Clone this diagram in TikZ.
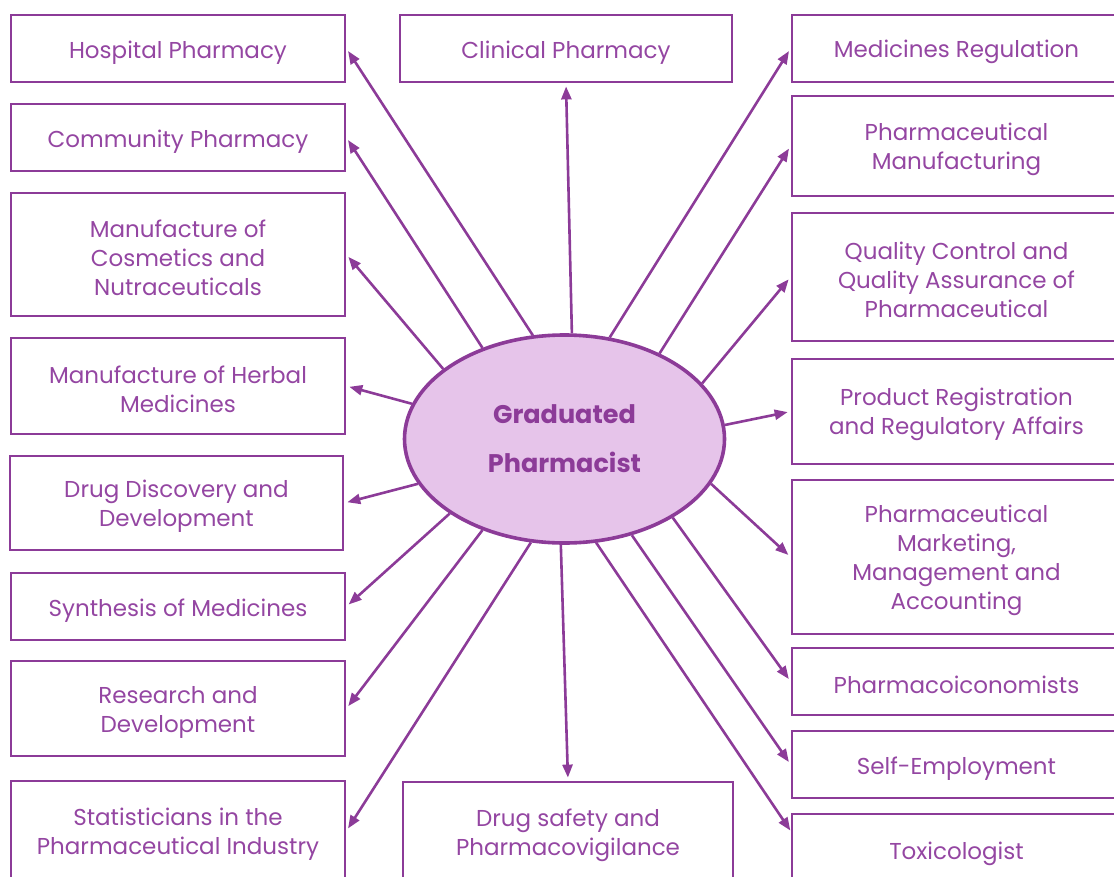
\documentclass[tikz,border=0pt]{standalone}
\usepackage{fontspec}
\setmainfont{Poppins}
\usetikzlibrary{arrows.meta,shapes.geometric}
\definecolor{pp}{HTML}{8C3B98}
\definecolor{pptext}{HTML}{9446A2}
\definecolor{ppfill}{HTML}{E6C4EA}
\newcommand\firstup{\rule{0pt}{24pt}}
\begin{document}
\begin{tikzpicture}[x=1pt,y=-1pt,
  box/.style={draw=pp, line width=2.8pt, text=pptext, align=center, inner sep=0pt,
    font=\fontsize{23}{29}\selectfont, execute at begin node={\rule{0pt}{25pt}}},
  lbox/.style={box, minimum width=334pt},
  rbox/.style={box, minimum width=329pt},
  arr/.style={draw=pp, line width=2.6pt, -{Triangle[length=13pt,width=10pt]}, shorten >=3pt}]
\useasboundingbox (0,0) rectangle (1114,876);
\clip (0,0) rectangle (1114,876);
% left column
\node[lbox, minimum height=67pt] (hosp) at (178,48.5) {Hospital Pharmacy};
\node[lbox, minimum height=67pt] (comm) at (178,137.5) {Community Pharmacy};
\node[lbox, minimum height=123pt] (cosm) at (178,254.5) {\firstup Manufacture of\\Cosmetics and\\Nutraceuticals};
\node[lbox, minimum height=96pt] (herb) at (178,386) {\firstup Manufacture of Herbal\\Medicines};
\node[box, minimum width=333pt, minimum height=94pt] (disc) at (176.5,503) {\firstup Drug Discovery and\\Development};
\node[lbox, minimum height=67pt] (synth) at (178,606.5) {Synthesis of Medicines};
\node[lbox, minimum height=95pt] (rd) at (178,708.5) {\firstup Research and\\Development};
\node[lbox, minimum height=100pt] (stat) at (178,831) {\firstup Statisticians in the\\Pharmaceutical Industry};
% centre column
\node[box, minimum width=332pt, minimum height=67pt] (clin) at (566,48.5) {Clinical Pharmacy};
\node[box, minimum width=330pt, minimum height=101pt] (safety) at (568,832.5) {\firstup Drug safety and\\Pharmacovigilance};
% right column
\node[rbox, minimum height=67pt] (medreg) at (956.5,48.5) {Medicines Regulation};
\node[rbox, minimum height=100pt] (mfg) at (956.5,146) {\firstup Pharmaceutical\\Manufacturing};
\node[rbox, minimum height=128pt] (qc) at (956.5,277) {\firstup Quality Control and\\Quality Assurance of\\Pharmaceutical};
\node[rbox, minimum height=105pt] (preg) at (956.5,411.5) {\firstup Product Registration\\and Regulatory Affairs};
\node[rbox, minimum height=154pt] (mkt) at (956.5,557) {\firstup Pharmaceutical\\Marketing,\\Management and\\Accounting};
\node[rbox, minimum height=67pt] (econ) at (956.5,681.5) {Pharmacoiconomists};
\node[rbox, minimum height=67pt] (self) at (956.5,764.5) {Self-Employment};
\node[rbox, minimum height=72pt] (tox) at (956.5,850) {Toxicologist};
\coordinate (toxtip) at (792,833);
% centre ellipse
\node[ellipse, draw=pp, line width=3.6pt, fill=ppfill, minimum width=320pt, minimum height=208pt,
  inner sep=0pt, text=pp, align=center, font=\fontsize{25.5}{49}\selectfont\bfseries] (gp) at (564.5,439)
  {Graduated\\Pharmacist};
% arrows
\draw[arr] (gp.107.9) -- (hosp.east);
\draw[arr] (gp.132.8) -- (comm.east);
\draw[arr] (gp.150.6) -- (cosm.east);
\draw[arr] (gp.167.2) -- (herb.east);
\draw[arr] (gp.197.2) -- (disc.east);
\draw[arr] (gp.213.3) -- (synth.east);
\draw[arr] (gp.228.9) -- (rd.east);
\draw[arr] (gp.252.1) -- (stat.east);
\draw[arr] (gp.86.8) -- (clin.south);
\draw[arr] (gp.268.4) -- (safety.north);
\draw[arr] (gp.66.7) -- (medreg.west);
\draw[arr] (gp.42.5) -- (mfg.west);
\draw[arr] (gp.22.6) -- (qc.west);
\draw[arr] (gp.5.3) -- (preg.west);
\draw[arr] (gp.-17.6) -- (mkt.west);
\draw[arr] (gp.-36.3) -- (econ.west);
\draw[arr] (gp.-55.5) -- (self.west);
\draw[arr] (gp.-73.8) -- (toxtip);
\end{tikzpicture}
\end{document}
